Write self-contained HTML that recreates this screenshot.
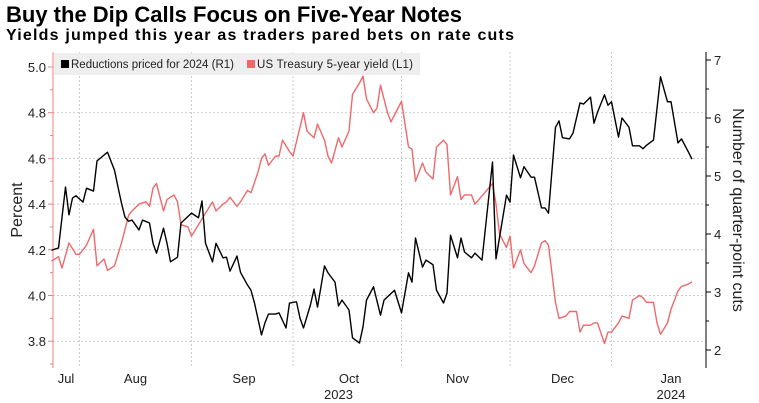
<!DOCTYPE html>
<html><head><meta charset="utf-8">
<style>
body{margin:0;background:#fff;width:759px;height:403px;overflow:hidden;font-family:"Liberation Sans",sans-serif;}
#title{position:absolute;left:6px;top:2px;font-size:22px;font-weight:bold;color:#000;letter-spacing:0px;}
#subtitle{position:absolute;left:6px;top:27px;font-size:16px;font-weight:bold;color:#000;letter-spacing:1.2px;}
svg{position:absolute;left:0;top:0;}
</style></head><body>
<div id="title">Buy the Dip Calls Focus on Five-Year Notes</div>
<div id="subtitle">Yields jumped this year as traders pared bets on rate cuts</div>
<svg id="chart" width="759" height="403"></svg>
<script>
const cutDays=[7,9,11,12,13,14,16,17,19,20,21,23,25,26,27,28,29,30,32,33,35,36,37,39,40,41,43,44,47,49,50,51,53,54,56,57,58,60,61,63,64,65,67,68,69,71,72,74,75,77,78,79,81,82,83,85,86,88,89,90,92,93,95,96,97,99,101,102,105,107,109,110,111,113,114,116,117,119,120,121,123,124,125,127,128,130,133,134,137,138,139,141,142,144,145,147,148,149,151,152,153,155,156,158,159,161,162,163,165,166,167,169,170,172,173,175,176,177,179,181,183,184,186,187,189,190];
const cutValues=[3.72,3.76,4.81,4.33,4.62,4.66,4.55,4.79,4.74,5.26,5.31,5.41,5.10,4.81,4.53,4.29,4.22,4.24,4.07,4.24,4.19,3.84,3.67,4.10,3.84,3.52,3.60,4.19,4.36,4.28,4.57,3.84,3.52,3.84,3.59,3.60,3.36,3.62,3.34,3.12,3.03,2.81,2.26,2.47,2.62,2.62,2.64,2.38,2.81,2.83,2.55,2.38,2.78,3.05,2.74,3.45,3.33,3.17,2.76,2.86,2.69,2.21,2.12,2.40,2.86,3.09,2.60,2.86,3.03,2.64,3.33,3.17,3.93,3.43,3.55,3.47,3.03,2.81,2.98,3.98,3.59,3.93,3.69,3.59,3.67,3.55,5.24,3.57,4.67,4.55,5.36,4.97,5.16,4.98,4.98,4.45,4.45,4.36,5.84,5.95,5.66,5.64,5.74,6.26,6.24,6.36,5.91,6.10,6.40,6.22,6.28,5.67,6.00,5.84,5.52,5.52,5.47,5.53,5.62,6.71,6.28,6.28,5.57,5.64,5.41,5.29];
const yieldDays=[7,9,10,12,14,15,17,19,20,22,23,25,27,29,30,32,34,35,36,37,39,40,42,43,44,46,47,49,53,54,56,57,58,60,61,63,64,66,67,68,69,71,72,73,75,76,79,80,82,83,85,86,87,89,90,92,93,95,96,97,99,100,101,103,104,106,107,109,110,111,113,114,116,117,119,120,121,123,124,125,127,128,133,134,135,137,138,139,141,142,144,145,147,148,149,151,152,154,155,157,158,159,161,162,163,165,166,167,169,170,172,173,175,176,177,179,180,181,183,184,186,187,189,190];
const yieldValues=[4.15,4.17,4.12,4.23,4.18,4.18,4.22,4.29,4.13,4.16,4.11,4.13,4.23,4.35,4.37,4.40,4.41,4.39,4.47,4.49,4.37,4.42,4.44,4.41,4.31,4.30,4.26,4.31,4.41,4.37,4.40,4.41,4.43,4.39,4.41,4.46,4.45,4.54,4.60,4.62,4.57,4.61,4.61,4.68,4.63,4.61,4.80,4.72,4.69,4.75,4.68,4.61,4.58,4.69,4.65,4.72,4.88,4.93,4.96,4.86,4.80,4.82,4.92,4.80,4.76,4.82,4.85,4.65,4.64,4.50,4.58,4.54,4.51,4.65,4.68,4.66,4.44,4.52,4.42,4.44,4.44,4.40,4.49,4.40,4.27,4.21,4.26,4.12,4.20,4.14,4.10,4.13,4.23,4.24,4.22,3.97,3.90,3.91,3.93,3.93,3.84,3.87,3.87,3.88,3.88,3.79,3.84,3.84,3.88,3.91,3.90,3.98,4.00,3.99,3.97,3.97,3.88,3.83,3.88,3.94,4.02,4.04,4.05,4.06];
const leftTicks=[3.8,4.0,4.2,4.4,4.6,4.8,5.0];
const leftMinor=[3.7,3.9,4.1,4.3,4.5,4.7,4.9];
const rightTicks=[2,3,4,5,6,7];
const rightMinor=[2.5,3.5,4.5,5.5,6.5];
const monthLabels=["Jul","Aug","Sep","Oct","Nov","Dec","Jan"];
const monthDays=[11,31,62,92,123,153,184];
const gridDays=[15,47,76,107,138,167];
const yearLabels=["2023","2024"];
const yearDays=[89,184];

const L=53,R=706,T=52,B=368;
const xS=d=>27+3.5*d;
const yL=v=>67+(5.0-v)*228.5;
const yR=v=>60+(7-v)*58;
const svg=document.getElementById('chart');
const NS='http://www.w3.org/2000/svg';
function mk(tag,attrs,parent){const e=document.createElementNS(NS,tag);for(const k in attrs)e.setAttribute(k,attrs[k]);(parent||svg).appendChild(e);return e;}
function txt(s,attrs){const e=mk('text',attrs);e.textContent=s;return e;}

leftTicks.forEach(v=>{if(v>=5)return;const g=mk('line',{x1:L,x2:R,y1:yL(v),y2:yL(v),stroke:'#ccc','stroke-width':1,'stroke-dasharray':'2,2'});

});
gridDays.forEach(d=>{const g=mk('line',{x1:xS(d),x2:xS(d),y1:T,y2:B,stroke:'#ccc','stroke-width':1,'stroke-dasharray':'2,2'});

});

const lg=mk('g',{});


mk('rect',{x:54,y:53,width:366,height:22,fill:'#eeeeee'},lg);
mk('rect',{x:61,y:60,width:8,height:8,fill:'#000'},lg);
const l1=mk('text',{x:71,y:68,'font-size':'11.5','fill':'#222','font-family':'Liberation Sans','textLength':163},lg);l1.textContent='Reductions priced for 2024 (R1)';


mk('rect',{x:247,y:60,width:8,height:8,fill:'#f0686a'},lg);
const l2=mk('text',{x:257,y:68,'font-size':'11.5','fill':'#222','font-family':'Liberation Sans','textLength':156},lg);l2.textContent='US Treasury 5-year yield (L1)';



const la=mk('line',{x1:L,x2:L,y1:T,y2:B,stroke:'#f08080','stroke-width':1});


const ra=mk('line',{x1:R,x2:R,y1:T,y2:B,stroke:'#000','stroke-width':1});


leftTicks.forEach(v=>{mk('line',{x1:L-5,x2:L,y1:yL(v),y2:yL(v),stroke:'#f08080'});
const t=txt(v.toFixed(1),{x:L-7,y:yL(v)+5,'text-anchor':'end','font-size':'13',fill:'#222'});

});
leftMinor.forEach(v=>mk('line',{x1:L-3,x2:L,y1:yL(v),y2:yL(v),stroke:'#f08080'}));
rightTicks.forEach(v=>{mk('line',{x1:R,x2:R+5,y1:yR(v),y2:yR(v),stroke:'#000'});
const t=txt(String(v),{x:R+8,y:yR(v)+5,'font-size':'13',fill:'#222'});

});
rightMinor.forEach(v=>mk('line',{x1:R,x2:R+3,y1:yR(v),y2:yR(v),stroke:'#000'}));
monthLabels.forEach((m,i)=>{const x=Math.max(xS(monthDays[i]),66);const t=txt(m,{x:x,y:383,'text-anchor':'middle','font-size':'13',fill:'#222'});

});
yearLabels.forEach((y,i)=>{const t=txt(y,{x:xS(yearDays[i]),y:399,'text-anchor':'middle','font-size':'13',fill:'#222'});

});
const ylt=txt('Percent',{x:0,y:0,'font-size':'16',fill:'#222','text-anchor':'middle',transform:'translate(22,210) rotate(-90)'});


const yrt=txt('Number of quarter-point cuts',{x:0,y:0,'font-size':'16',fill:'#222','text-anchor':'middle',transform:'translate(733,210) rotate(90)'});



const yp=mk('polyline',{points:yieldDays.map((d,i)=>xS(d)+','+yL(yieldValues[i])).join(' '),fill:'none',stroke:'#f0686a','stroke-width':1.4,'stroke-linejoin':'round'});


const cp=mk('polyline',{points:cutDays.map((d,i)=>xS(d)+','+yR(cutValues[i])).join(' '),fill:'none',stroke:'#000','stroke-width':1.4,'stroke-linejoin':'round'});


</script>
</body></html>
